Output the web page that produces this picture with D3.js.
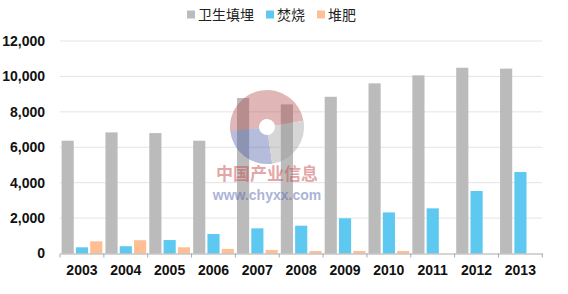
<!DOCTYPE html>
<html>
<head>
<meta charset="utf-8">
<script src="https://cdn.jsdelivr.net/npm/d3@7"></script>
<style>
  body { margin: 0; background: #fff; }
  svg { display: block; font-family: "Liberation Sans", Arial, sans-serif; }
  .axis text { font-size: 14px; font-weight: bold; fill: #111; }
  .legend text { font-family: "Noto Sans CJK SC", sans-serif; font-size: 14px; fill: #222; }
</style>
</head>
<body>
<svg id="chart" width="568" height="294"></svg>
<script>
// chart data
var years = ['2003', '2004', '2005', '2006', '2007', '2008', '2009', '2010', '2011', '2012', '2013'];
var seriesNames = ['卫生填埋', '焚烧', '堆肥'];
var landfill = [6370, 6840, 6800, 6370, 8780, 8420, 8850, 9610, 10060, 10490, 10440];
var burning = [350, 410, 760, 1100, 1420, 1570, 1990, 2320, 2550, 3530, 4600];
var compost = [690, 750, 350, 260, 200, 140, 140, 140, 0, 0, 0];
var yTicks = [0, 2000, 4000, 6000, 8000, 10000, 12000];

var colors = ['#bbbbbb', '#5dc9f1', '#fdbf93'];

var svg = d3.select('#chart');
var plotLeft = 60, plotRight = 542.3, plotTop = 41, plotBottom = 253.5;

var x = d3.scaleBand().domain(years).range([plotLeft, plotRight]);
var x1 = d3.scaleBand().domain(d3.range(3)).range([1.6, x.bandwidth() - 1.5]).paddingInner(0.15);
var y = d3.scaleLinear().domain([0, 12000]).range([plotBottom, plotTop]);

// grid lines
svg.append('g').selectAll('line')
  .data(yTicks.slice(1))
  .join('line')
  .attr('x1', plotLeft).attr('x2', plotRight)
  .attr('y1', function(d) { return y(d); })
  .attr('y2', function(d) { return y(d); })
  .attr('stroke', '#e4e4e4');

// bars
var rows = years.map(function(yr, i) {
  return { year: yr, values: [landfill[i], burning[i], compost[i]] };
});

var groups = svg.append('g').selectAll('g')
  .data(rows)
  .join('g')
  .attr('transform', function(d) { return 'translate(' + x(d.year) + ',0)'; });

groups.selectAll('rect')
  .data(function(d) {
    return d.values
      .map(function(v, k) { return { k: k, v: v }; })
      .filter(function(d) { return d.v > 0; });
  })
  .join('rect')
  .attr('x', function(d) { return x1(d.k); })
  .attr('width', x1.bandwidth())
  .attr('y', function(d) { return y(d.v); })
  .attr('height', function(d) { return plotBottom - y(d.v); })
  .attr('fill', function(d) { return colors[d.k]; });

// x axis
var xAxis = svg.append('g')
  .attr('class', 'axis')
  .attr('transform', 'translate(0,' + plotBottom + ')')
  .call(d3.axisBottom(x).tickSize(0).tickPadding(12));
xAxis.select('.domain').attr('stroke', '#aaa');

// boundary ticks between the years
svg.append('g').selectAll('line')
  .data(years.concat(['end']))
  .join('line')
  .attr('x1', function(d) { return d === 'end' ? plotRight : x(d); })
  .attr('x2', function(d) { return d === 'end' ? plotRight : x(d); })
  .attr('y1', plotBottom).attr('y2', plotBottom + 4)
  .attr('stroke', '#aaa');

// y axis
var yAxis = svg.append('g')
  .attr('class', 'axis')
  .attr('transform', 'translate(' + plotLeft + ',0)')
  .call(d3.axisLeft(y).tickValues(yTicks).tickSize(0).tickPadding(15).tickFormat(d3.format(',')));
yAxis.select('.domain').remove();

// legend
var legend = svg.append('g').attr('class', 'legend');
var legendX = [187, 266, 317];
seriesNames.forEach(function(name, i) {
  legend.append('rect')
    .attr('x', legendX[i]).attr('y', 10.5)
    .attr('width', 8).attr('height', 8)
    .attr('fill', colors[i]);
  legend.append('text')
    .attr('x', legendX[i] + 11).attr('y', 19.5)
    .text(name);
});

// watermark
var mark = svg.append('g').attr('transform', 'translate(267,127)').attr('opacity', 0.4);
var arc = d3.arc();
mark.append('path')
  .attr('d', arc({ innerRadius: 8, outerRadius: 37, startAngle: -1.7, endAngle: 1.4 }))
  .attr('fill', '#b24a4a');
mark.append('path')
  .attr('d', arc({ innerRadius: 8, outerRadius: 37, startAngle: 3.0, endAngle: 4.6 }))
  .attr('fill', '#4a5aa8');
mark.append('path')
  .attr('d', arc({ innerRadius: 8, outerRadius: 37, startAngle: 1.4, endAngle: 3.0 }))
  .attr('fill', '#9a9a9a');

svg.append('text')
  .attr('x', 267).attr('y', 180)
  .attr('text-anchor', 'middle')
  .attr('font-family', '"Noto Sans CJK SC", sans-serif')
  .attr('font-size', 17).attr('font-weight', 'bold')
  .attr('fill', '#c85050').attr('opacity', 0.5)
  .text('中国产业信息');
svg.append('text')
  .attr('x', 267).attr('y', 200)
  .attr('text-anchor', 'middle')
  .attr('font-size', 14).attr('font-weight', 'bold')
  .attr('fill', '#5a6ab4').attr('opacity', 0.5)
  .text('www.chyxx.com');
</script>
</body>
</html>
